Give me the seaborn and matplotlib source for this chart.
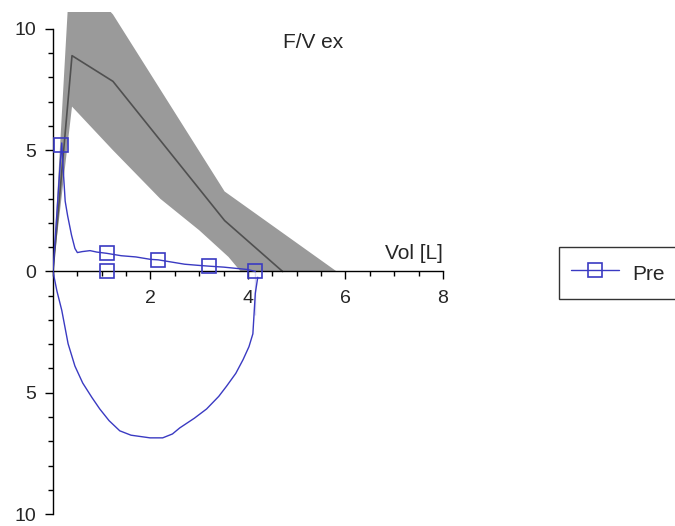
import numpy as np
import matplotlib
matplotlib.use('Agg')
import matplotlib.pyplot as plt
import seaborn as sns
from matplotlib.lines import Line2D
from matplotlib.ticker import FuncFormatter, MultipleLocator

# predicted normal (mean line and band limits)
pred_x = [0, 0.39, 1.23, 3.52, 4.71]
pred_y = [0, 8.9, 7.84, 2.1, 0]
upper_x = [0, 0.35, 1.23, 3.52, 5.82]
upper_y = [0, 12.5, 10.6, 3.3, 0]
lower_x = [0, 0.39, 1.23, 2.2, 3.0, 3.6, 3.85]
lower_y = [0, 6.8, 5.0, 3.0, 1.7, 0.6, 0]

# measured "Pre" loop - expiration (flow up) and inspiration (plotted down)
exp_x = [0, 0.05, 0.1, 0.15, 0.18, 0.21, 0.25, 0.3, 0.38, 0.45, 0.5, 0.6, 0.76, 0.9,
         1.1, 1.4, 1.7, 2.0, 2.16, 2.4, 2.7, 3.0, 3.2, 3.5, 3.8, 4.0, 4.15]
exp_y = [0, 1.5, 3.0, 4.5, 5.3, 4.2, 2.9, 2.3, 1.5, 0.95, 0.78, 0.82, 0.86, 0.8,
         0.75, 0.65, 0.6, 0.5, 0.48, 0.4, 0.3, 0.25, 0.22, 0.18, 0.12, 0.08, 0]
insp_x = [0, 0.08, 0.18, 0.31, 0.45, 0.61, 0.8, 0.96, 1.15, 1.37, 1.6, 1.99, 2.25, 2.45,
          2.6, 2.9, 3.15, 3.4, 3.56, 3.75, 3.9, 4.02, 4.1, 4.15, 4.2, 4.15]
insp_y = [0, -0.8, -1.6, -2.98, -3.9, -4.6, -5.2, -5.67, -6.15, -6.57, -6.75, -6.86, -6.86, -6.7,
          -6.45, -6.05, -5.67, -5.15, -4.73, -4.2, -3.63, -3.1, -2.57, -1.8, -0.24, 0]
mark_x = [0.16, 1.1, 1.1, 2.16, 3.2, 4.15]
mark_y = [5.2, 0.78, 0.0, 0.48, 0.22, 0.0]

blue = '#3a3ac2'
txt = '#262626'

sns.set_style('ticks')
plt.rcParams['font.family'] = ['Liberation Sans', 'DejaVu Sans']

fig = plt.figure(figsize=(6.75, 5.26), dpi=100)
ax = fig.add_axes([0.0785, 0.0228, 0.5778, 0.9544])

ax.fill(np.concatenate([upper_x, lower_x[::-1]]), np.concatenate([upper_y, lower_y[::-1]]),
        color='#9a9a9a', lw=0, zorder=1)
sns.lineplot(x=pred_x, y=pred_y, sort=False, color='#505050', lw=1.2, ax=ax, zorder=2)
sns.lineplot(x=exp_x, y=exp_y, sort=False, color=blue, lw=1, ax=ax, zorder=3)
sns.lineplot(x=insp_x, y=insp_y, sort=False, color=blue, lw=1, ax=ax, zorder=3)
ax.plot(mark_x, mark_y, ls='none', marker='s', ms=10, mfc='none', mec=blue, mew=1.2, zorder=4)

ax.set_xlim(0, 8)
ax.set_ylim(-10, 10.7)
ax.spines['top'].set_visible(False)
ax.spines['right'].set_visible(False)
ax.spines['bottom'].set_position(('data', 0))
ax.spines['left'].set_bounds(-10, 10)
ax.spines['bottom'].set_bounds(0, 8)
for s in ['left', 'bottom']:
    ax.spines[s].set_color('black')
    ax.spines[s].set_linewidth(1)

ax.xaxis.set_major_locator(MultipleLocator(2))
ax.xaxis.set_minor_locator(MultipleLocator(0.5))
ax.yaxis.set_major_locator(MultipleLocator(5))
ax.yaxis.set_minor_locator(MultipleLocator(1))
ax.set_xticks([2, 4, 6, 8])
ax.yaxis.set_major_formatter(FuncFormatter(lambda v, p: f'{abs(v):g}'))
ax.tick_params(which='major', length=6, width=1, colors='black', labelsize=14, labelcolor=txt)
ax.tick_params(which='minor', length=3.5, width=1, colors='black')
ax.tick_params(axis='x', which='major', pad=7)
ax.tick_params(axis='y', which='major', pad=6)
ax.set_xlabel('')
ax.set_ylabel('')

ax.text(8.0, 0.5, 'Vol [L]', fontsize=15, color=txt, ha='right', va='baseline')
ax.text(5.33, 9.43, 'F/V ex', fontsize=15, color=txt, ha='center', va='center')

handle = Line2D([], [], color=blue, lw=1, marker='s', ms=10, mfc='none', mec=blue, mew=1.2)
leg = fig.legend([handle], ['Pre'], loc='upper left', bbox_to_anchor=(0.828, 0.5304),
                 borderaxespad=0, fontsize=15, frameon=True, fancybox=False, borderpad=0.6,
                 handlelength=2.3, handleheight=1.6, handletextpad=0.6)
leg.get_frame().set_edgecolor('black')
leg.get_frame().set_linewidth(1)

fig.savefig('out.png', dpi=100)
